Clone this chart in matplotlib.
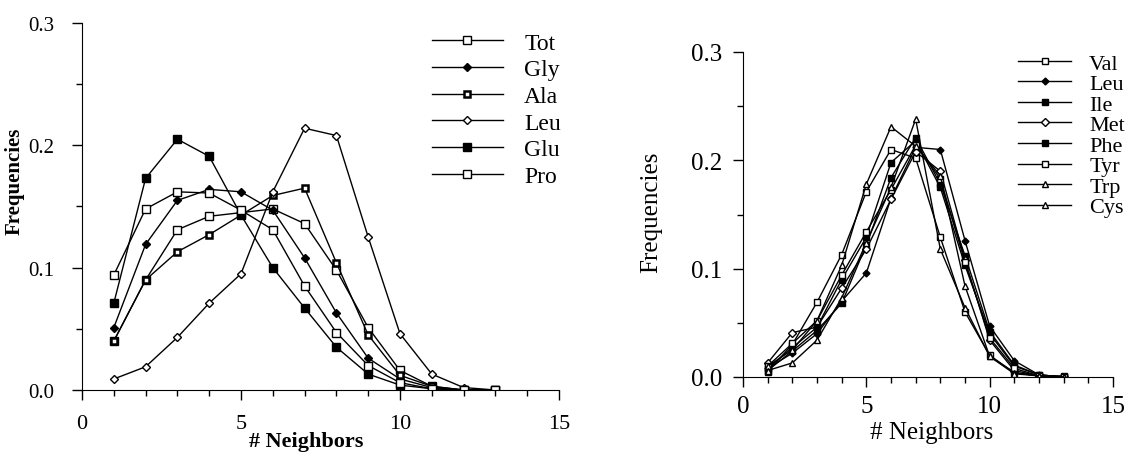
import numpy as np
import matplotlib.pyplot as plt
from matplotlib.ticker import MultipleLocator

plt.rcParams['font.family'] = ['Liberation Serif', 'DejaVu Serif']

neighbors = [1, 2, 3, 4, 5, 6, 7, 8, 9, 10, 11, 12, 13]

# left panel
tot = [0.040, 0.090, 0.131, 0.142, 0.145, 0.148, 0.136, 0.098, 0.051, 0.016, 0.003, 0.000, 0.000]
gly = [0.051, 0.119, 0.155, 0.164, 0.162, 0.147, 0.108, 0.063, 0.026, 0.009, 0.002, 0.000, 0.000]
ala = [0.040, 0.090, 0.113, 0.127, 0.143, 0.159, 0.165, 0.104, 0.045, 0.012, 0.003, 0.000, 0.000]
leu_l = [0.009, 0.019, 0.043, 0.071, 0.095, 0.162, 0.214, 0.208, 0.125, 0.046, 0.013, 0.002, 0.000]
glu = [0.071, 0.173, 0.205, 0.191, 0.143, 0.100, 0.067, 0.035, 0.013, 0.004, 0.001, 0.000, 0.000]
pro = [0.094, 0.148, 0.162, 0.161, 0.147, 0.131, 0.085, 0.047, 0.020, 0.006, 0.001, 0.000, 0.000]

# right panel
val = [0.005, 0.030, 0.069, 0.113, 0.171, 0.210, 0.202, 0.129, 0.060, 0.020, 0.004, 0.001, 0.001]
leu_r = [0.008, 0.022, 0.040, 0.070, 0.096, 0.165, 0.212, 0.210, 0.126, 0.047, 0.015, 0.002, 0.000]
ile = [0.006, 0.024, 0.043, 0.068, 0.122, 0.184, 0.221, 0.178, 0.112, 0.042, 0.011, 0.002, 0.000]
met = [0.013, 0.041, 0.046, 0.082, 0.118, 0.164, 0.208, 0.190, 0.108, 0.034, 0.006, 0.001, 0.000]
phe = [0.008, 0.027, 0.046, 0.090, 0.129, 0.198, 0.218, 0.175, 0.103, 0.040, 0.010, 0.002, 0.000]
tyr = [0.010, 0.031, 0.052, 0.094, 0.134, 0.173, 0.214, 0.183, 0.106, 0.036, 0.008, 0.001, 0.000]
trp = [0.010, 0.025, 0.052, 0.103, 0.178, 0.231, 0.213, 0.186, 0.084, 0.019, 0.004, 0.001, 0.000]
cys = [0.006, 0.013, 0.034, 0.073, 0.124, 0.175, 0.238, 0.118, 0.064, 0.019, 0.003, 0.001, 0.000]

W, H = 1133, 456
fig = plt.figure(figsize=(W / 100, H / 100), dpi=100)

def px_axes(x0, y0, x1, y1):
    return fig.add_axes([x0 / W, 1 - y1 / H, (x1 - x0) / W, (y1 - y0) / H])

def style(ax, fs, ypad, xpad):
    ax.set_xlim(0, 15)
    ax.set_ylim(0, 0.3)
    for s in ['top', 'right']:
        ax.spines[s].set_visible(False)
    ax.xaxis.set_major_locator(MultipleLocator(5))
    ax.xaxis.set_minor_locator(MultipleLocator(1))
    ax.yaxis.set_major_locator(MultipleLocator(0.1))
    ax.yaxis.set_minor_locator(MultipleLocator(0.05))
    ax.yaxis.set_major_formatter(plt.FormatStrFormatter('%.1f'))
    ax.tick_params(which='major', direction='out', length=7, width=1, labelsize=fs)
    ax.tick_params(which='minor', direction='out', length=4, width=1)
    ax.tick_params(axis='y', pad=ypad)
    ax.tick_params(axis='x', pad=xpad)
    ax.patch.set_visible(False)

k = dict(color='black', lw=1.0)

ax1 = px_axes(82, 24, 559, 391)
ax1.plot(neighbors, tot, marker='s', ms=5.5, mfc='white', mec='black', label='Tot', **k)
ax1.plot(neighbors, gly, marker='D', ms=4, mfc='black', mec='black', label='Gly', **k)
ax1.plot(neighbors, ala, marker='s', ms=5, mfc='white', mec='black', mew=1.8, label='Ala', **k)
ax1.plot(neighbors, leu_l, marker='D', ms=4.5, mfc='white', mec='black', label='Leu', **k)
ax1.plot(neighbors, glu, marker='s', ms=5.5, mfc='black', mec='black', label='Glu', **k)
ax1.plot(neighbors, pro, marker='s', ms=6, mfc='white', mec='black', label='Pro', **k)
style(ax1, 16, 12, 10)
ax1.tick_params(axis='y', labelsize=15, pad=13)
ax1.set_xlabel('# Neighbors', fontsize=16, fontweight='bold')
ax1.set_ylabel('Frequencies', fontsize=15, fontweight='bold')
ax1.xaxis.set_label_coords(0.47, -0.112)
ax1.yaxis.set_label_coords(-0.12, 0.57)
ax1.legend(loc='upper left', bbox_to_anchor=(432 / W, 1 - 33 / H), bbox_transform=fig.transFigure,
           frameon=False, fontsize=17, handlelength=3.0, handletextpad=0.9, labelspacing=0.22,
           borderpad=0, borderaxespad=0, numpoints=1)

ax2 = px_axes(743, 53, 1113, 378)
ax2.plot(neighbors, val, marker='s', ms=4, mfc='white', mec='black', label='Val', **k)
ax2.plot(neighbors, leu_r, marker='D', ms=3.5, mfc='black', mec='black', label='Leu', **k)
ax2.plot(neighbors, ile, marker='s', ms=4, mfc='black', mec='black', label='Ile', **k)
ax2.plot(neighbors, met, marker='D', ms=4, mfc='white', mec='black', label='Met', **k)
ax2.plot(neighbors, phe, marker='s', ms=4, mfc='black', mec='black', label='Phe', **k)
ax2.plot(neighbors, tyr, marker='s', ms=4.5, mfc='white', mec='black', label='Tyr', **k)
ax2.plot(neighbors, trp, marker='^', ms=4.5, mfc='white', mec='black', label='Trp', **k)
ax2.plot(neighbors, cys, marker='^', ms=4.5, mfc='white', mec='black', label='Cys', **k)
style(ax2, 18, 8, 6)
ax2.set_xlabel('# Neighbors', fontsize=18)
ax2.set_ylabel('Frequencies', fontsize=18)
ax2.xaxis.set_label_coords(0.51, -0.135)
ax2.yaxis.set_label_coords(-0.219, 0.51)
ax2.legend(loc='upper left', bbox_to_anchor=(1018 / W, 1 - 54 / H), bbox_transform=fig.transFigure,
           frameon=False, fontsize=16, handlelength=2.4, handletextpad=0.8, labelspacing=0.0,
           borderpad=0, borderaxespad=0, numpoints=1)

fig.savefig('out.png', dpi=100)
